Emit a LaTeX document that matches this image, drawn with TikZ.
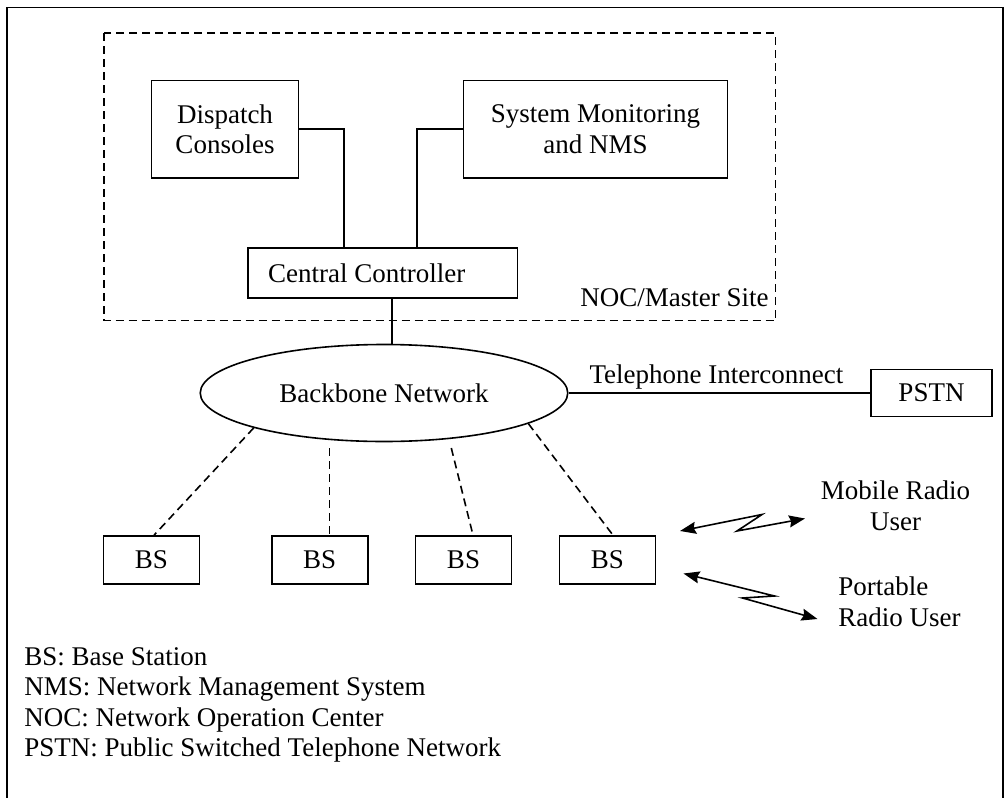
\documentclass[tikz,border=0pt]{standalone}
\usepackage{fontspec}
\setmainfont{Liberation Serif}
\usetikzlibrary{shapes.geometric,arrows.meta}

\begin{document}
\begin{tikzpicture}[x=1pt,y=-1pt,line width=1.6pt,
    font=\fontsize{27}{30.6}\selectfont,
    box/.style={draw,rectangle,inner sep=0pt},
    wireless/.style={dash pattern=on 8pt off 5pt},
    radio/.style={{Stealth[length=16pt,width=12pt,inset=2pt]}-{Stealth[length=16pt,width=12pt,inset=2pt]}}]
  \def\ybs{560}
  \def\ylink{393}
  \useasboundingbox (0,0) rectangle (1007,798);
  \draw (7,798) -- (7,7.5) -- (1003,7.5) -- (1003,798);
  %
  \draw[wireless] (104,33) rectangle (775.5,320.5);
  \node[box,minimum width=147pt,minimum height=97.5pt,align=center] (disp) at (225,129.2) {Dispatch\\Consoles};
  \node[box,minimum width=264pt,minimum height=97.5pt,align=center] (nms) at (595.5,129.2) {System Monitoring\\and NMS};
  \node[box,minimum height=49.5pt,inner xsep=20pt,text width=229.5pt,align=flush left] (cc) at (382.8,273) {Central Controller};
  \node[anchor=east] (noc) at (772.7,298) {NOC/Master Site};
  \draw (disp.east) -| ([xshift=-39pt]cc.north);
  \draw (nms.west) -| ([xshift=34pt]cc.north);
  %
  \node[draw,ellipse,minimum width=367.5pt,minimum height=97pt,inner sep=0pt] (bb) at (384,\ylink) {Backbone Network};
  \draw ([xshift=9pt]cc.south) -- ([xshift=9pt]cc.south |- bb.north);
  \node[box,minimum width=121pt,minimum height=47pt] (pstn) at (931.5,\ylink) {PSTN};
  \draw (bb.east) -- node[above,pos=0.49] {Telephone Interconnect} (pstn.west);
  %
  \foreach \n/\x in {1/151.5,2/319.7,3/463.5,4/607.3}
    \node[box,minimum width=96pt,minimum height=48pt] (bs\n) at (\x,\ybs) {BS};
  \coordinate (t2) at (329.3,448);
  \coordinate (t3) at (451.3,448);
  \draw[wireless] (bb.-165.6) -- ([xshift=2.5pt]bs1.north);
  \draw[wireless] (t2) -- ([xshift=9.6pt]bs2.north);
  \draw[wireless] (t3) -- ([xshift=9.5pt]bs3.north);
  \draw[wireless] (bb.-12.7) -- ([xshift=5.7pt]bs4.north);
  %
  \coordinate (m1) at (680,531);
  \coordinate (m2) at (762,514.5);
  \coordinate (m3) at (737,531);
  \coordinate (m4) at (805,518.5);
  \draw[radio] (m1) -- (m2) -- (m3) -- (m4);
  \coordinate (p1) at (683.5,573.5);
  \coordinate (p2) at (774.5,596);
  \coordinate (p3) at (742.5,598);
  \coordinate (p4) at (817.5,619);
  \draw[radio] (p1) -- (p2) -- (p3) -- (p4);
  \node[align=center] (mob) at (895.6,505.5) {Mobile Radio\\User};
  \node[align=left,anchor=west] (port) at (834.3,602) {Portable\\Radio User};
  %
  \node[align=left,anchor=west] (legend) at (20.3,705) {BS: Base Station\\NMS: Network Management System\\NOC: Network Operation Center\\PSTN: Public Switched Telephone Network};
\end{tikzpicture}
\end{document}
